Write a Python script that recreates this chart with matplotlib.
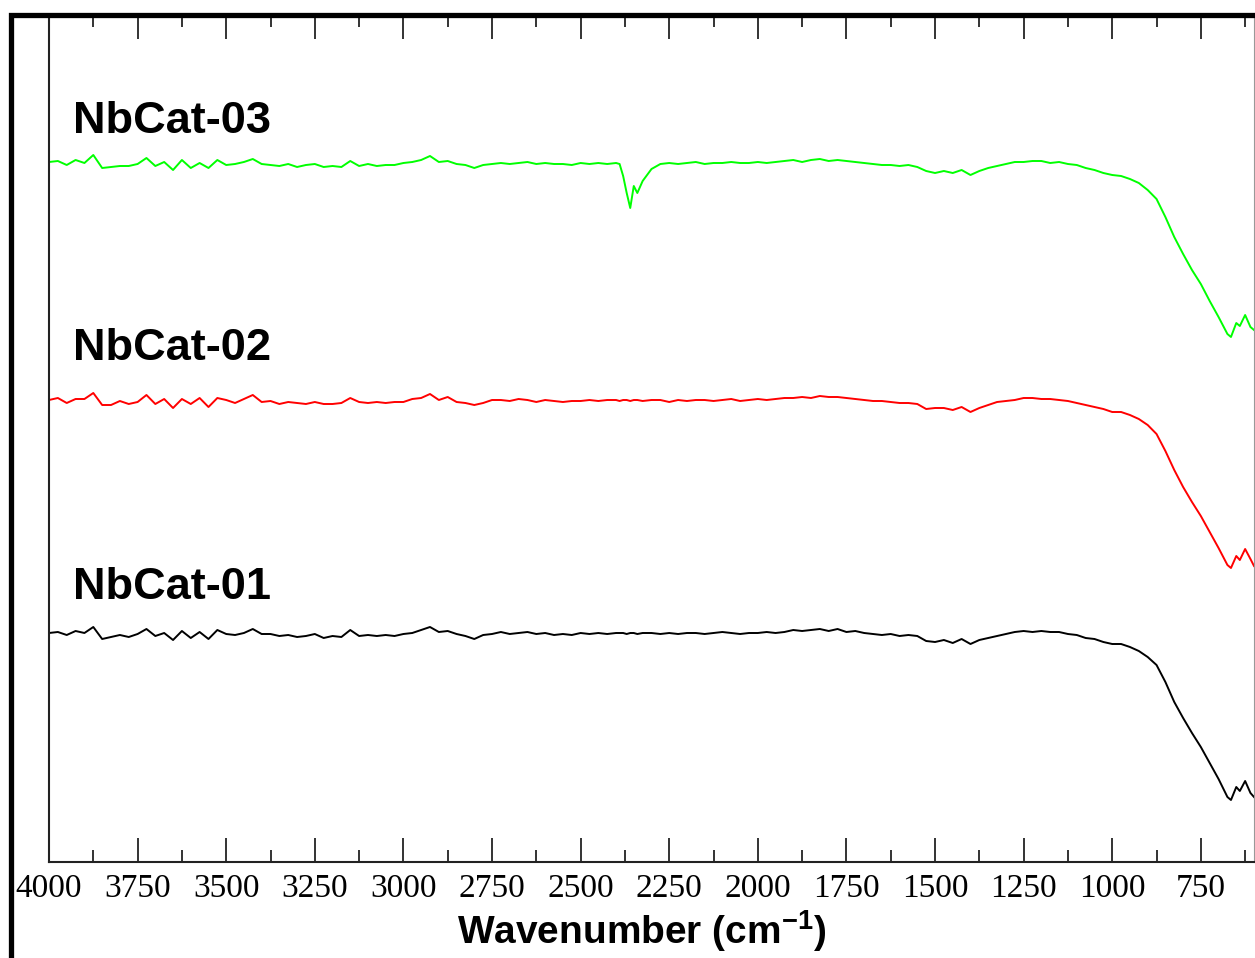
import matplotlib.pyplot as plt
from matplotlib.ticker import MultipleLocator
from matplotlib.lines import Line2D

plt.rcParams['font.family'] = 'Liberation Serif'
plt.rcParams['mathtext.fontset'] = 'custom'
plt.rcParams['mathtext.bf'] = 'Liberation Sans:bold'
plt.rcParams['mathtext.rm'] = 'Liberation Sans'

# wavenumber grid (cm-1)
wn = [4000, 3975, 3950, 3925, 3900, 3875, 3850, 3825, 3800, 3775,
      3750, 3725, 3700, 3675, 3650, 3625, 3600, 3575, 3550, 3525,
      3500, 3475, 3450, 3425, 3400, 3375, 3350, 3325, 3300, 3275,
      3250, 3225, 3200, 3175, 3150, 3125, 3100, 3075, 3050, 3025,
      3000, 2975, 2950, 2925, 2900, 2875, 2850, 2825, 2800, 2775,
      2750, 2725, 2700, 2675, 2650, 2625, 2600, 2575, 2550, 2525,
      2500, 2475, 2450, 2425, 2400, 2390, 2380, 2370, 2360, 2350,
      2340, 2325, 2300, 2275, 2250, 2225, 2200, 2175, 2150, 2125,
      2100, 2075, 2050, 2025, 2000, 1975, 1950, 1925, 1900, 1875,
      1850, 1825, 1800, 1775, 1750, 1725, 1700, 1675, 1650, 1625,
      1600, 1575, 1550, 1525, 1500, 1475, 1450, 1425, 1400, 1375,
      1350, 1325, 1300, 1275, 1250, 1225, 1200, 1175, 1150, 1125,
      1100, 1075, 1050, 1025, 1000, 975, 950, 925, 900, 875,
      850, 825, 800, 775, 750, 725, 700, 675, 665, 650,
      640, 625, 610, 600]

# transmittance (%)
t_01 = [100.0, 100.1, 99.8, 100.2, 100.0, 100.6, 99.4, 99.6, 99.8, 99.6,
        99.9, 100.4, 99.7, 100.0, 99.3, 100.2, 99.5, 100.1, 99.4, 100.3,
        99.9, 99.8, 100.0, 100.4, 99.9, 99.9, 99.7, 99.8, 99.6, 99.7,
        99.9, 99.5, 99.7, 99.6, 100.3, 99.7, 99.8, 99.7, 99.8, 99.7,
        99.9, 100.0, 100.3, 100.6, 100.1, 100.2, 99.9, 99.7, 99.4, 99.8,
        99.9, 100.1, 99.9, 100.0, 100.1, 99.9, 100.0, 99.8, 99.9, 99.8,
        100.0, 99.9, 100.0, 99.9, 100.0, 100.0, 100.0, 99.9, 100.0, 100.0,
        99.9, 100.0, 100.0, 99.9, 100.0, 99.9, 100.0, 100.0, 99.9, 100.0,
        100.1, 100.0, 99.9, 100.0, 100.0, 100.1, 100.0, 100.1, 100.3, 100.2,
        100.3, 100.4, 100.2, 100.4, 100.1, 100.2, 100.0, 99.9, 99.8, 99.9,
        99.7, 99.8, 99.7, 99.2, 99.1, 99.3, 99.0, 99.4, 98.9, 99.3,
        99.5, 99.7, 99.9, 100.1, 100.2, 100.1, 100.2, 100.1, 100.1, 99.9,
        99.8, 99.5, 99.4, 99.1, 98.9, 98.9, 98.6, 98.2, 97.6, 96.8,
        95.1, 93.1, 91.5, 90.0, 88.6, 87.0, 85.4, 83.6, 83.3, 84.6,
        84.2, 85.2, 84.0, 83.6]

t_02 = [100.0, 100.2, 99.7, 100.1, 100.1, 100.7, 99.5, 99.5, 99.9, 99.6,
        99.8, 100.5, 99.6, 100.1, 99.2, 100.1, 99.6, 100.2, 99.3, 100.2,
        100.0, 99.7, 100.1, 100.5, 99.8, 99.9, 99.6, 99.8, 99.7, 99.6,
        99.8, 99.6, 99.6, 99.7, 100.2, 99.8, 99.7, 99.8, 99.7, 99.8,
        99.8, 100.1, 100.2, 100.6, 100.0, 100.3, 99.8, 99.7, 99.5, 99.7,
        100.0, 100.0, 99.9, 100.1, 100.0, 99.8, 100.0, 99.9, 99.8, 99.9,
        99.9, 100.0, 99.9, 100.0, 100.0, 99.9, 100.0, 100.0, 99.9, 100.0,
        100.0, 99.9, 100.0, 100.0, 99.8, 100.0, 99.9, 100.0, 100.0, 99.9,
        100.0, 100.1, 99.9, 100.0, 100.1, 100.0, 100.1, 100.2, 100.2, 100.3,
        100.2, 100.4, 100.3, 100.3, 100.2, 100.1, 100.0, 99.9, 99.9, 99.8,
        99.7, 99.7, 99.6, 99.1, 99.2, 99.2, 99.0, 99.3, 98.8, 99.2,
        99.5, 99.8, 99.9, 100.0, 100.2, 100.2, 100.1, 100.1, 100.0, 99.9,
        99.7, 99.5, 99.3, 99.1, 98.8, 98.8, 98.5, 98.1, 97.5, 96.6,
        94.9, 93.0, 91.3, 89.8, 88.4, 86.8, 85.2, 83.5, 83.2, 84.4,
        84.0, 85.1, 84.1, 83.4]

t_03 = [100.1, 100.2, 99.8, 100.3, 100.0, 100.8, 99.5, 99.6, 99.7, 99.7,
        99.9, 100.5, 99.7, 100.1, 99.3, 100.3, 99.5, 100.0, 99.5, 100.3,
        99.8, 99.9, 100.1, 100.4, 99.9, 99.8, 99.7, 99.9, 99.6, 99.8,
        99.9, 99.6, 99.7, 99.6, 100.2, 99.7, 99.9, 99.7, 99.8, 99.8,
        100.0, 100.1, 100.3, 100.7, 100.1, 100.2, 99.9, 99.8, 99.5, 99.8,
        99.9, 100.0, 99.9, 100.0, 100.1, 99.9, 100.0, 99.9, 99.9, 99.8,
        100.0, 99.9, 100.0, 99.9, 100.0, 99.9, 98.7, 97.0, 95.5, 97.7,
        97.0, 98.2, 99.4, 99.9, 100.0, 99.9, 100.0, 100.1, 99.9, 100.0,
        100.0, 100.1, 100.0, 100.0, 100.1, 100.0, 100.1, 100.2, 100.3, 100.1,
        100.3, 100.4, 100.2, 100.3, 100.2, 100.1, 100.0, 99.9, 99.8, 99.8,
        99.7, 99.8, 99.6, 99.2, 99.0, 99.2, 99.0, 99.3, 98.8, 99.2,
        99.5, 99.7, 99.9, 100.1, 100.1, 100.2, 100.2, 100.0, 100.1, 99.9,
        99.8, 99.5, 99.3, 99.0, 98.8, 98.7, 98.4, 98.0, 97.3, 96.4,
        94.6, 92.6, 90.9, 89.3, 87.9, 86.2, 84.6, 82.9, 82.6, 84.0,
        83.7, 84.8, 83.6, 83.3]

samples = ["NbCat-01", "NbCat-02", "NbCat-03"]
series = [t_01, t_02, t_03]
colors = ["black", "#ff0000", "#00ff00"]
baselines = [22.9, 46.2, 69.9]      # vertical stacking of the spectra
label_y = [26.3, 50.2, 72.9]

fig = plt.figure(figsize=(12.55, 9.58), dpi=100)
ax = fig.add_axes([49/1255, 96/958, 1205/1255, 847/958])

for name, t, col, base, ly in zip(samples, series, colors, baselines, label_y):
    ax.plot(wn, [v - 100 + base for v in t], color=col, lw=1.4)
    ax.text(3932, ly, name, family="Liberation Sans", fontweight="bold",
            fontsize=32.5, va="baseline")

ax.set_xlim(4000, 600)
ax.set_ylim(0, 84.7)
ax.set_yticks([])
ax.xaxis.set_major_locator(MultipleLocator(250))
ax.xaxis.set_minor_locator(MultipleLocator(125))
ax.tick_params(axis="x", which="both", direction="in", top=True, bottom=True,
               labelsize=24, pad=8, color="#333333")
ax.tick_params(axis="x", which="major", length=17, width=1.4)
ax.tick_params(axis="x", which="minor", length=8.6, width=1.4)

ax.spines["top"].set_linewidth(3.6)
ax.spines["left"].set_linewidth(1.5)
ax.spines["left"].set_color("#222222")
ax.spines["bottom"].set_linewidth(1.5)
ax.spines["bottom"].set_color("#222222")
ax.spines["right"].set_linewidth(0.8)
ax.spines["right"].set_color("#999999")

ax.set_xlabel(r"Wavenumber (cm$^{\mathbf{-1}}$)", family="Liberation Sans",
              fontweight="bold", fontsize=28)
ax.xaxis.set_label_coords(0.492, -0.054)

# outer frame
fig.add_artist(Line2D([10.5/1255, 10.5/1255, 1], [0, 943/958, 943/958],
                      transform=fig.transFigure, color="black", lw=3.8,
                      solid_joinstyle="miter"))

fig.savefig("out.png", dpi=100)
